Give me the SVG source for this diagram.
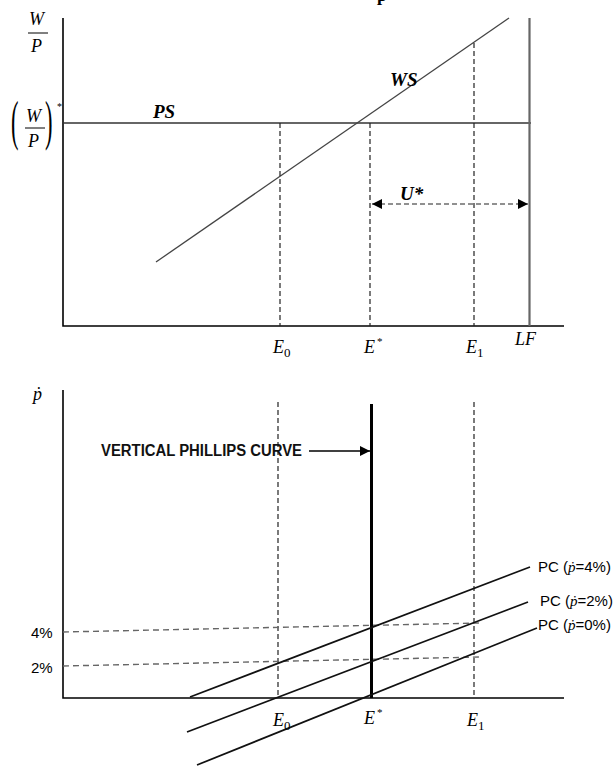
<svg xmlns="http://www.w3.org/2000/svg" width="613" height="766" viewBox="0 0 613 766">
<style>
.ax{stroke:#000;stroke-width:1.6;fill:none}
.dash{stroke:#222;stroke-width:1.2;stroke-dasharray:5 3;fill:none}
.gdash{stroke:#666;stroke-width:1.4;stroke-dasharray:6 4;fill:none}
.ln{stroke:#444;stroke-width:1.3;fill:none}
.pc{stroke:#111;stroke-width:1.7;fill:none}
.m{font-family:"Liberation Serif","DejaVu Serif",serif;font-style:italic;font-size:18px;fill:#000}
.bi{font-family:"Liberation Serif","DejaVu Serif",serif;font-style:italic;font-weight:bold;font-size:19px;fill:#000}
.s{font-family:"Liberation Sans",Arial,sans-serif;font-size:15px;fill:#000}
.sub{font-style:normal;font-size:13px}
.par{font-family:"Liberation Serif","DejaVu Serif",serif;font-size:30px;fill:#000}
</style>
<defs>
<marker id="ah" viewBox="0 0 10 10" refX="10" refY="5" markerWidth="10" markerHeight="10" markerUnits="userSpaceOnUse" orient="auto-start-reverse">
<path d="M0,0 L10,5 L0,10 Z" fill="#000"/>
</marker>
</defs>
<rect width="613" height="766" fill="#fff"/>
<text x="377" y="1" font-family="Liberation Serif,serif" font-weight="bold" font-size="18" fill="#000">p</text>

<g id="top-chart">
<g id="top-axes">
<path class="ax" d="M63,18 V326 H564"/>
</g>
<g id="top-lines">
<line id="PS" x1="63" y1="123" x2="531" y2="123" stroke="#333" stroke-width="1.5"/>
<line id="WS" class="ln" x1="156" y1="262" x2="509" y2="18"/>
<line id="LF" x1="529.5" y1="18" x2="529.5" y2="326" stroke="#666" stroke-width="2.2"/>
<line class="dash" x1="280" y1="123" x2="280" y2="326"/>
<line class="dash" x1="370" y1="123" x2="370" y2="326"/>
<line class="dash" x1="474" y1="43" x2="474" y2="326"/>
<line class="dash" x1="372" y1="204" x2="528" y2="204" marker-start="url(#ah)" marker-end="url(#ah)"/>
</g>
<g id="top-labels">
<text class="m" x="29" y="25">W</text>
<line x1="28" y1="33" x2="48" y2="33" stroke="#000" stroke-width="1"/>
<text class="m" x="31" y="52">P</text>
<text class="par" transform="translate(11,139) scale(0.75,1.8)">(</text>
<text class="m" x="26" y="122">W</text>
<line x1="25" y1="128" x2="45" y2="128" stroke="#000" stroke-width="1"/>
<text class="m" x="28" y="147">P</text>
<text class="par" transform="translate(45,139) scale(0.75,1.8)">)</text>
<text x="57" y="110" font-family="Liberation Serif,serif" font-size="10" fill="#000">*</text>
<text class="bi" x="153" y="118">PS</text>
<text class="bi" x="390" y="86">WS</text>
<text class="bi" x="400" y="200">U*</text>
<text class="m" x="273" y="353">E<tspan class="sub" dy="4">0</tspan></text>
<text class="m" x="364" y="353">E<tspan font-style="normal" font-size="11" dx="2" dy="-8">*</tspan></text>
<text class="m" x="466" y="353">E<tspan class="sub" dy="4">1</tspan></text>
<text class="m" x="515" y="345">LF</text>
</g>
</g>

<g id="bottom-chart">
<g id="bottom-axes">
<path class="ax" d="M63,390 V698 H564"/>
</g>
<g id="bottom-dashed">
<line class="dash" x1="278" y1="402" x2="278" y2="698"/>
<line class="dash" x1="474" y1="402" x2="474" y2="698"/>
<line class="gdash" x1="63" y1="632" x2="480" y2="623"/>
<line class="gdash" x1="63" y1="666" x2="480" y2="657"/>
</g>
<g id="vertical-phillips-curve">
<line x1="371.5" y1="404" x2="371.5" y2="698" stroke="#000" stroke-width="3"/>
</g>
<g id="connectors">
<line x1="309" y1="451" x2="370" y2="451" stroke="#000" stroke-width="1.4" marker-end="url(#ah)"/>
</g>
<g id="phillips-curves">
<line id="PC4" class="pc" x1="190" y1="697" x2="530" y2="567"/>
<line id="PC2" class="pc" x1="187" y1="732" x2="528" y2="602"/>
<line id="PC0" class="pc" x1="197" y1="765" x2="537" y2="628"/>
</g>
<g id="bottom-labels">
<text class="m" x="33" y="400">ṗ</text>
<text x="101" y="456" font-family="Liberation Sans,Arial,sans-serif" font-weight="bold" font-size="16" textLength="201" lengthAdjust="spacingAndGlyphs" fill="#111">VERTICAL PHILLIPS CURVE</text>
<text class="s" x="31" y="638">4%</text>
<text class="s" x="31" y="673">2%</text>
<text class="s" x="538" y="572">PC (<tspan font-family="Liberation Serif,serif" font-style="italic">ṗ</tspan>=4%)</text>
<text class="s" x="540" y="606">PC (<tspan font-family="Liberation Serif,serif" font-style="italic">ṗ</tspan>=2%)</text>
<text class="s" x="538" y="630">PC (<tspan font-family="Liberation Serif,serif" font-style="italic">ṗ</tspan>=0%)</text>
<text class="m" x="273" y="726">E<tspan class="sub" dy="4">0</tspan></text>
<text class="m" x="364" y="724">E<tspan font-style="normal" font-size="11" dx="2" dy="-8">*</tspan></text>
<text class="m" x="467" y="726">E<tspan class="sub" dy="4">1</tspan></text>
</g>
</g>
</svg>
